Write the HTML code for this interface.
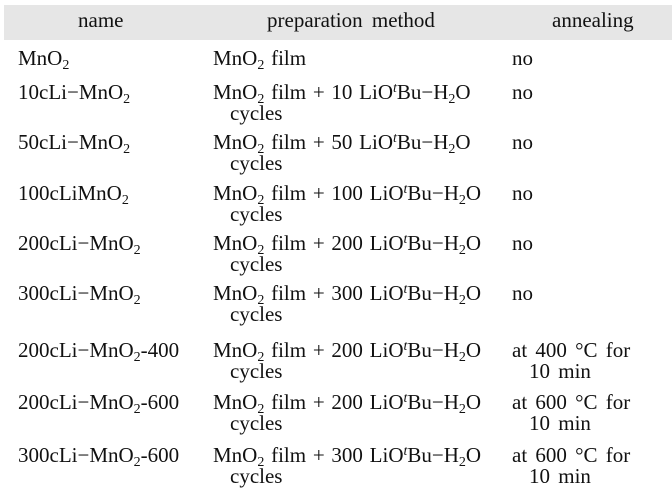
<!DOCTYPE html>
<html><head><meta charset="utf-8"><style>
body{margin:0;width:672px;height:500px;background:#fff;position:relative;overflow:hidden;font-family:"Liberation Serif",serif;font-size:21px;color:#111}
.h{position:absolute;left:4px;top:5px;width:668px;height:35px;background:#e6e6e6}
.t{position:absolute;line-height:22px;white-space:nowrap}
.m{word-spacing:1.5px}
.a{word-spacing:3px}
sub{font-size:14px;vertical-align:-4px;line-height:0}
sup{font-size:14px;vertical-align:7px;line-height:0;font-style:italic}
</style></head><body>
<div class="h"></div>
<div class="t" style="left:78px;top:9px">name</div>
<div class="t" style="left:267px;top:9px;word-spacing:4px">preparation method</div>
<div class="t" style="left:552px;top:9px">annealing</div>
<div id="rows"></div>
<script>
const names=["MnO<sub>2</sub>","10cLi−MnO<sub>2</sub>","50cLi−MnO<sub>2</sub>","100cLiMnO<sub>2</sub>","200cLi−MnO<sub>2</sub>","300cLi−MnO<sub>2</sub>","200cLi−MnO<sub>2</sub>-400","200cLi−MnO<sub>2</sub>-600","300cLi−MnO<sub>2</sub>-600"];
const cycles=[null,10,50,100,200,300,200,200,300];
const anneal=[null,null,null,null,null,null,400,600,600];
const centers=[58,92,142,193,243,293,350,402,455];
const root=document.getElementById('rows');
function add(x,y,html,name,cls){const d=document.createElement('div');d.className='t'+(cls?' '+cls:'');d.style.left=x+'px';d.style.top=y+'px';d.innerHTML=html;


root.appendChild(d);}
names.forEach((n,i)=>{const y=centers[i]-11;
add(18,y,n,'row-name');
if(cycles[i]===null){add(213,y,'MnO<sub>2</sub> film','row-method','m');}
else{add(213,y,'MnO<sub>2</sub> film + '+cycles[i]+' LiO<sup>t</sup>Bu−H<sub>2</sub>O','row-method','m');add(230,y+21,'cycles','row-method-cont');}
if(anneal[i]===null){add(512,y,'no','row-annealing');}
else{add(512,y,'at '+anneal[i]+' °C for','row-annealing','a');add(529,y+21,'10 min','row-annealing-cont','a');}
});
</script>
</body></html>
